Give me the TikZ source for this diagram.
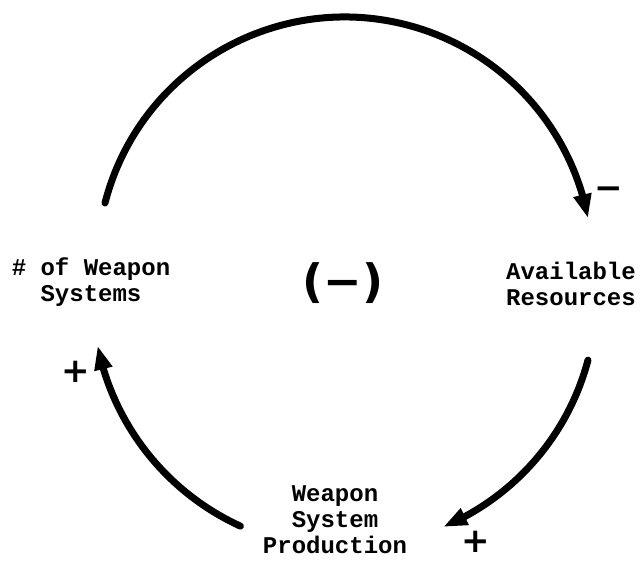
\documentclass[tikz,border=0pt]{standalone}
\usepackage{fontspec}
\setmainfont{Liberation Mono}
\newfontfamily\signfont{DejaVu Sans}
\usetikzlibrary{arrows.meta,bending}
\begin{document}
\begin{tikzpicture}[x=1pt,y=1pt,
  loopline/.style={line width=7pt, line cap=round, -{Triangle[length=24pt,width=17pt,flex]}},
  lbl/.style={font=\fontsize{24}{26}\selectfont\bfseries, align=center, inner sep=0pt},
  sgn/.style={font=\signfont\fontsize{34}{34}\selectfont\bfseries, inner sep=0pt},
  loopsign/.style={font=\signfont\fontsize{46}{46}\selectfont\bfseries, inner sep=0pt}]
\useasboundingbox (0,0) rectangle (640,570);
% labels
\node[lbl] (wsys) at (91,288) {\# of Weapon\\Systems};
\node[lbl] (res) at (571,286) {Available\\Resources};
\node[lbl] (prod) at (335,50) {Weapon\\System\\Production};
\node[loopsign] (pol) at (343,287) {(−)};
% signs
\node[sgn] (sres) at (609,377) {−};
\node[sgn] (sprod) at (476,28) {+};
\node[sgn] (swsys) at (76,198) {+};
% arc centres
\coordinate (ctop) at (344.8,305.4);
\coordinate (cbot) at (345.7,273.9);
% top arc: # of Weapon Systems -> Available Resources
\draw[loopline] (ctop) ++(165.6:247.6) coordinate (topstart)
  arc[start angle=165.6, end angle=10.8, radius=247.6];
% right arc: Available Resources -> Weapon System Production
\draw[loopline] (cbot) ++(-14.8:250.6) coordinate (rstart)
  arc[start angle=-14.8, end angle=-67.1, radius=250.6];
% left arc: Weapon System Production -> # of Weapon Systems
\draw[loopline] (cbot) ++(-114.6:253) coordinate (lstart)
  arc[start angle=-114.6, end angle=-168.7, radius=253];
\end{tikzpicture}
\end{document}
